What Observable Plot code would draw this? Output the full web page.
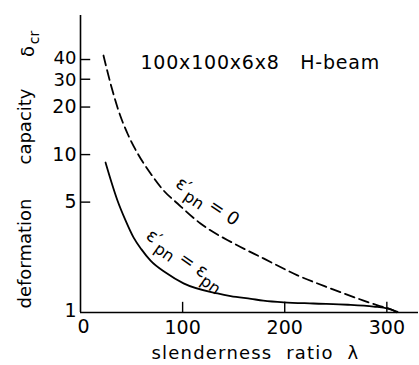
<!DOCTYPE html>
<html><head><meta charset="utf-8">
<script src="https://cdn.jsdelivr.net/npm/d3@7"></script>
<script src="https://cdn.jsdelivr.net/npm/@observablehq/plot@0.6"></script>
<style>body{margin:0;background:#fff} svg{font-family:"DejaVu Sans",sans-serif}</style>
</head><body><div id="chart"></div>
<script>
// dashed curve: ε'pn = 0
const lambdaDashed = [22.5, 29.4, 37.2, 46.0, 55.8, 68.6, 81.3, 95.0, 117.5, 149.9, 179.2, 212.5, 244.9, 277.2, 290.9, 306.6, 310];
const capDashed    = [42.4, 28.2, 19.0, 13.6, 10.2, 7.6, 5.93, 4.90, 3.66, 2.74, 2.20, 1.72, 1.42, 1.19, 1.11, 1.03, 1.0];
// solid curve: ε'pn = εpn
const lambdaSolid = [24.5, 30.4, 36.2, 44.1, 51.9, 59.7, 68.6, 83.3, 100.9, 134.2, 147, 167, 179, 199, 228, 262, 287, 301, 310.5];
const capSolid    = [8.91, 6.66, 5.12, 3.83, 2.99, 2.51, 2.13, 1.79, 1.53, 1.32, 1.27, 1.22, 1.19, 1.16, 1.14, 1.12, 1.09, 1.06, 1.01];
const xTicks = [100, 200, 300];
const yTicksLow = [5, 10, 20];
const yTick30 = [30];
const yTick40 = [40];
const titleText = "100x100x6x8   H-beam";
const xTitle = "slenderness  ratio  λ";
const curveLabels = [
  {text: "ε′pn = 0", lambda: 124.4, cap: 5.05, angle: 34},
  {text: "ε′pn = εpn", lambda: 102.8, cap: 2.17, angle: 35}
];

const yTicks = [...yTicksLow, ...yTick30, ...yTick40];
const dashed = lambdaDashed.map((l, i) => ({lambda: l, cap: capDashed[i]}));
const solid = lambdaSolid.map((l, i) => ({lambda: l, cap: capSolid[i]}));

const fs = 19;
const chart = Plot.plot({
  width: 419, height: 365,
  marginLeft: 80, marginRight: 1, marginTop: 15, marginBottom: 53,
  x: {type: "linear", domain: [0, 331], axis: null},
  y: {type: "log", domain: [1, 76], axis: null},
  marks: [
    Plot.ruleX([0], {y1: 1, y2: 76, strokeWidth: 1.6}),
    Plot.ruleY([1], {x1: 0, x2: 331, strokeWidth: 1.6}),
    Plot.ruleY(yTicks, {y: d => d, x1: 0, x2: 10, strokeWidth: 1.4}),
    Plot.ruleX(xTicks, {x: d => d, y1: 1, y2: 1.16, strokeWidth: 1.4}),
    Plot.text(yTicksLow, {x: 0, y: d => d, text: d => String(d), textAnchor: "end", dx: -4, fontSize: fs}),
    Plot.text(yTick30, {x: 0, y: d => d, text: d => String(d), textAnchor: "end", dx: -4, dy: 1, fontSize: 18}),
    Plot.text(yTick40, {x: 0, y: d => d, text: d => String(d), textAnchor: "end", dx: -4, dy: -1, fontSize: 18}),
    Plot.text(["1"], {x: 0, y: 1, text: d => d, dx: -10, dy: -2, fontSize: fs}),
    Plot.text(["0"], {x: 0, y: 1, text: d => d, dx: 3, dy: 14, fontSize: fs}),
    Plot.text(xTicks, {x: d => d, y: 1, text: d => String(d), dy: 15, fontSize: fs}),
    Plot.line(dashed, {x: "lambda", y: "cap", curve: "monotone-x", strokeWidth: 1.8, strokeDasharray: "10,5"}),
    Plot.line(solid, {x: "lambda", y: "cap", curve: "monotone-x", strokeWidth: 1.8}),
    Plot.text([titleText], {x: 176, y: 38.3, text: d => d, fontSize: fs}),
    Plot.text([xTitle], {frameAnchor: "bottom", textAnchor: "middle", lineAnchor: "middle", text: d => d, dx: 6, dy: 41, fontSize: 18}),
    Plot.text(["deformation"], {frameAnchor: "left", textAnchor: "middle", lineAnchor: "middle", text: d => d, rotate: -90, dx: -55, dy: 253 - 163.5, fontSize: 18}),
    Plot.text(["capacity"], {frameAnchor: "left", textAnchor: "middle", lineAnchor: "middle", text: d => d, rotate: -90, dx: -55, dy: 126 - 163.5, fontSize: 18}),
    Plot.text(["δ"], {frameAnchor: "left", textAnchor: "middle", lineAnchor: "middle", text: d => d, rotate: -90, dx: -52, dy: 51 - 163.5, fontSize: 18}),
    Plot.text(["cr"], {frameAnchor: "left", textAnchor: "middle", lineAnchor: "middle", text: d => d, rotate: -90, dx: -46, dy: 37 - 163.5, fontSize: 14}),
    Plot.text(curveLabels, {x: "lambda", y: "cap", text: "text", rotate: d => d.angle, fontSize: 18})
  ]
});

function textsWith(svg, label) {
  return d3.select(svg).selectAll("text").filter(function() { return this.textContent === label; });
}
// render subscripts "pn" in the curve labels
function subscriptify(svg, label, parts) {
  textsWith(svg, label).each(function() {
    const t = d3.select(this);
    t.text(null);
    let shifted = false;
    for (const [s, sub] of parts) {
      const ts = t.append("tspan").text(s);
      if (sub && !shifted) { ts.attr("dy", 6).attr("font-size", 16); shifted = true; }
      else if (!sub && shifted) { ts.attr("dy", -6); shifted = false; }
    }
  });
}
textsWith(chart, titleText).attr("letter-spacing", 0.8);
textsWith(chart, xTitle).attr("letter-spacing", 1.2);
subscriptify(chart, "ε′pn = 0", [["ε′", false], ["pn", true], [" = 0", false]]);
subscriptify(chart, "ε′pn = εpn", [["ε′", false], ["pn", true], [" = ε", false], ["pn", true]]);

document.getElementById("chart").append(chart);
</script>
</body></html>
